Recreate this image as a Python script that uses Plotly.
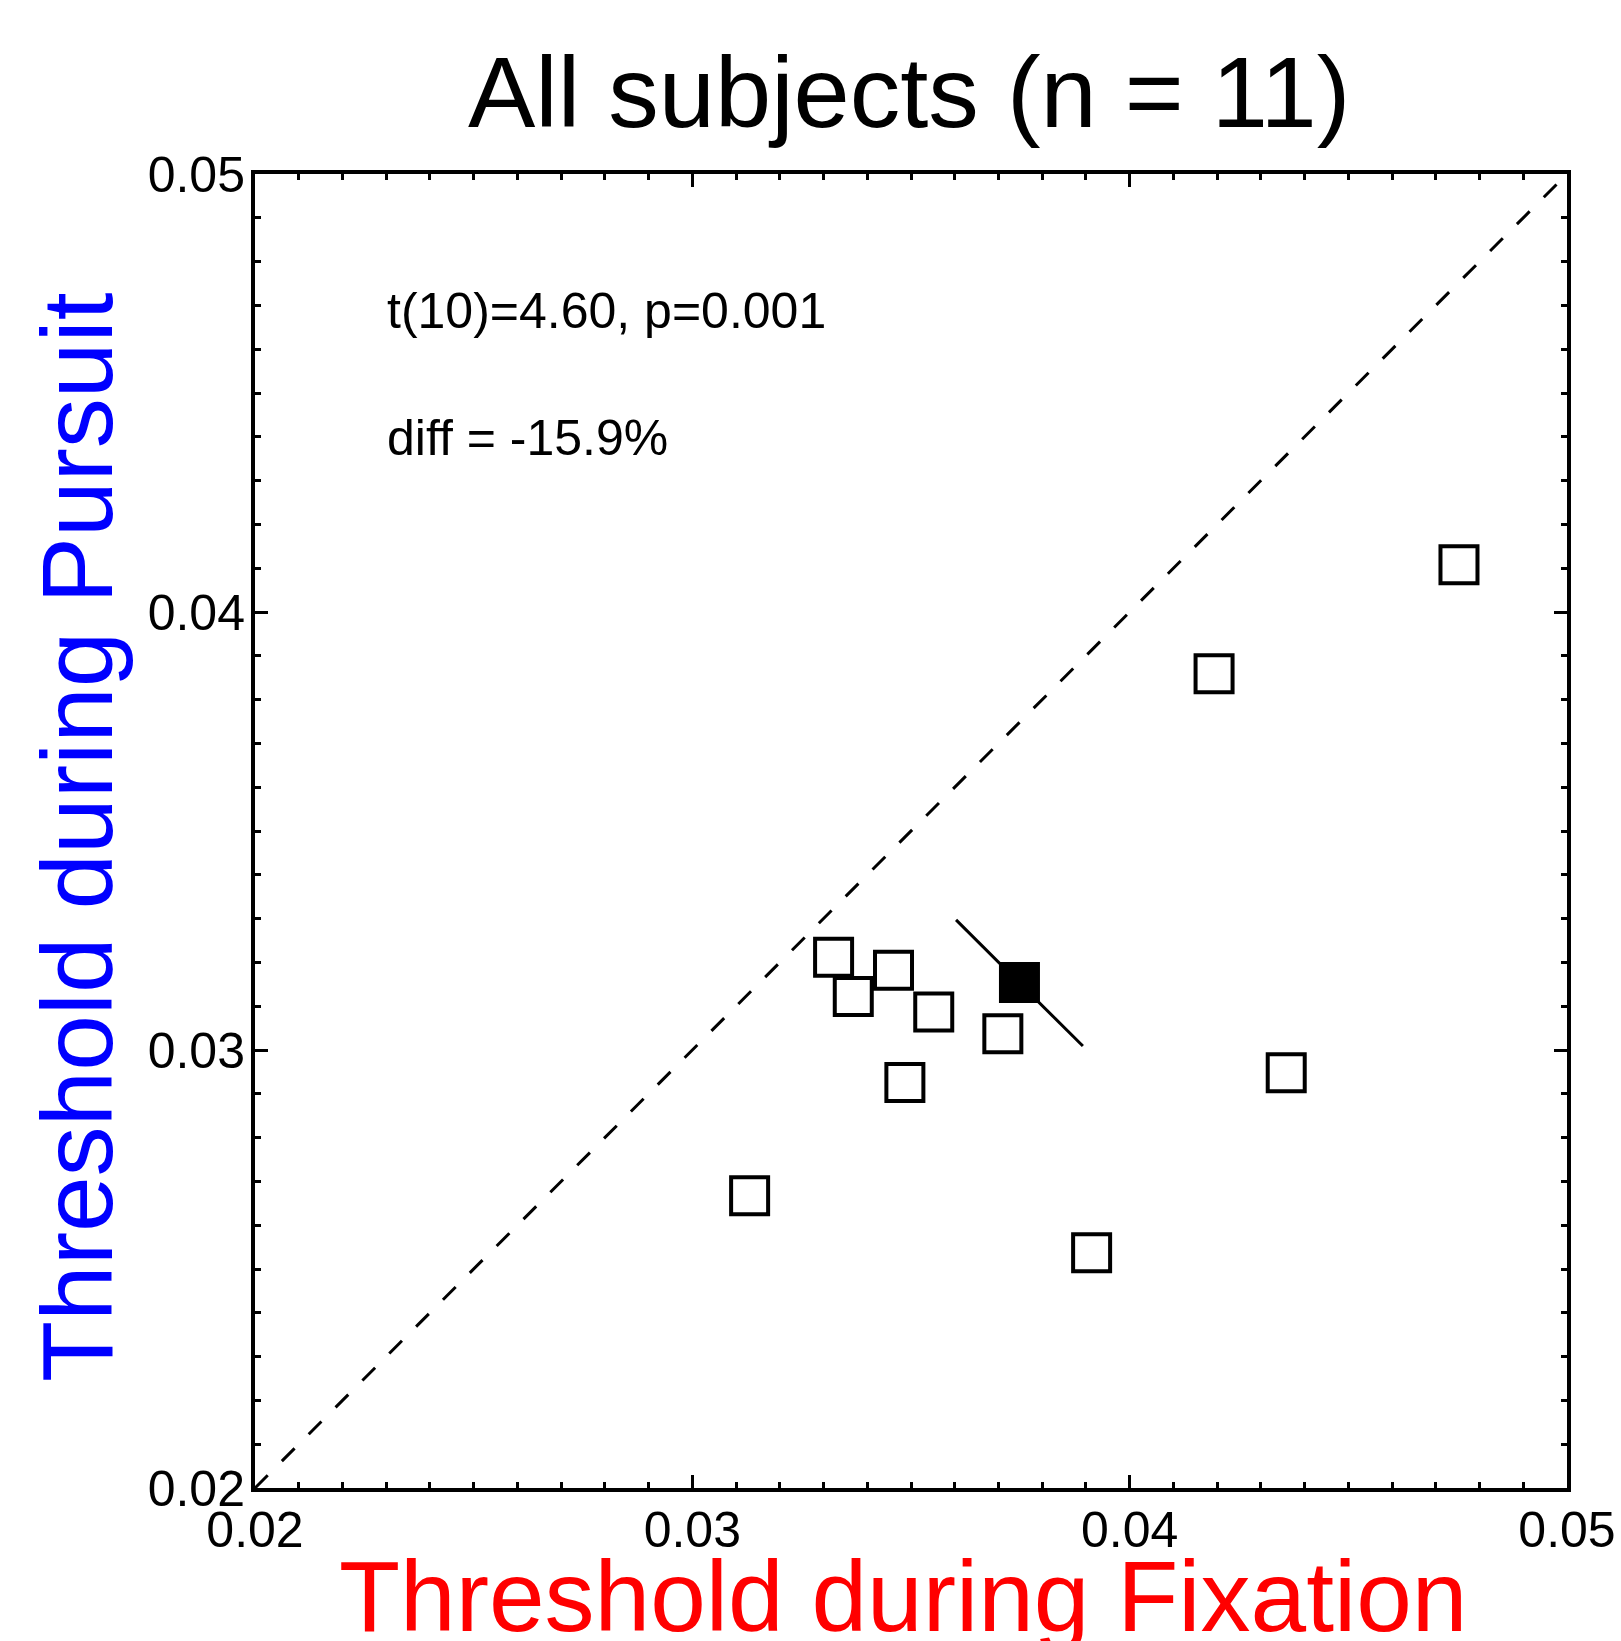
import plotly.graph_objects as go

# Data
fixation = [0.03323, 0.03368, 0.03460, 0.03552, 0.03710, 0.03486,
            0.03131, 0.03913, 0.04358, 0.04193, 0.04753]
pursuit = [0.03212, 0.03122, 0.03182, 0.03087, 0.03037, 0.02926,
           0.02667, 0.02537, 0.02948, 0.03859, 0.04108]
mean_fix = [0.03748]
mean_pur = [0.03154]
mean_line_x = [0.03603, 0.03893]
mean_line_y = [0.03297, 0.03009]
diag = [0.02, 0.05]

tickvals = [0.02, 0.03, 0.04, 0.05]
ticktext = ["0.02", "0.03", "0.04", "0.05"]

title_text = "All subjects (n = 11)"
xlabel = "Threshold during Fixation"
ylabel = "Threshold during Pursuit"
stat_text = "t(10)=4.60, p=0.001"
diff_text = "diff = -15.9%"

FONT = "Liberation Sans, Arial, sans-serif"

fig = go.Figure()
fig.add_trace(go.Scatter(x=diag, y=diag, mode="lines",
                         line=dict(color="black", width=3, dash="18px,20px"),
                         showlegend=False, hoverinfo="skip"))
fig.add_trace(go.Scatter(x=mean_line_x, y=mean_line_y, mode="lines",
                         line=dict(color="black", width=3),
                         showlegend=False, hoverinfo="skip"))
fig.add_trace(go.Scatter(x=fixation, y=pursuit, mode="markers",
                         marker=dict(symbol="square-open", size=37, color="black",
                                     line=dict(color="black", width=4)),
                         showlegend=False))
fig.add_trace(go.Scatter(x=mean_fix, y=mean_pur, mode="markers",
                         marker=dict(symbol="square", size=37, color="black",
                                     line=dict(color="black", width=4)),
                         showlegend=False))

axis_common = dict(
    range=[0.02, 0.05],
    tickvals=tickvals, ticktext=ticktext,
    ticks="inside", ticklen=13, tickwidth=3, tickcolor="black",
    minor=dict(dtick=0.001, ticks="inside", ticklen=6, tickwidth=3, tickcolor="black"),
    showline=True, linewidth=4, linecolor="black", mirror="ticks",
    showgrid=False, zeroline=False, automargin=False,
    tickfont=dict(family=FONT, size=50, color="black"),
)

fig.update_xaxes(**axis_common, ticklabelstandoff=-5)
fig.update_yaxes(**axis_common, ticklabelstandoff=-4)

fig.update_layout(
    width=1621, height=1641,
    margin=dict(l=255, r=54, t=174, b=153, pad=0, autoexpand=False),
    paper_bgcolor="white", plot_bgcolor="white",
    font=dict(family=FONT, color="black"),
    annotations=[
        dict(text=title_text, xref="paper", yref="paper", x=0.4985, y=1.1069,
             xanchor="center", yanchor="top", showarrow=False,
             font=dict(family=FONT, size=101, color="black")),
        dict(text=xlabel, xref="paper", yref="paper", x=0.4939, y=-0.038,
             xanchor="center", yanchor="top", showarrow=False,
             font=dict(family=FONT, size=100, color="red")),
        dict(text=ylabel, xref="paper", yref="paper", x=-0.1357, y=0.4954,
             xanchor="center", yanchor="middle", showarrow=False, textangle=-90,
             font=dict(family=FONT, size=100, color="blue")),
        dict(text=stat_text, xref="paper", yref="paper", x=0.0991, y=0.9188,
             xanchor="left", yanchor="top", showarrow=False,
             font=dict(family=FONT, size=50, color="black")),
        dict(text=diff_text, xref="paper", yref="paper", x=0.0991, y=0.8222,
             xanchor="left", yanchor="top", showarrow=False,
             font=dict(family=FONT, size=50, color="black")),
    ],
)

fig.write_html("out.html")
